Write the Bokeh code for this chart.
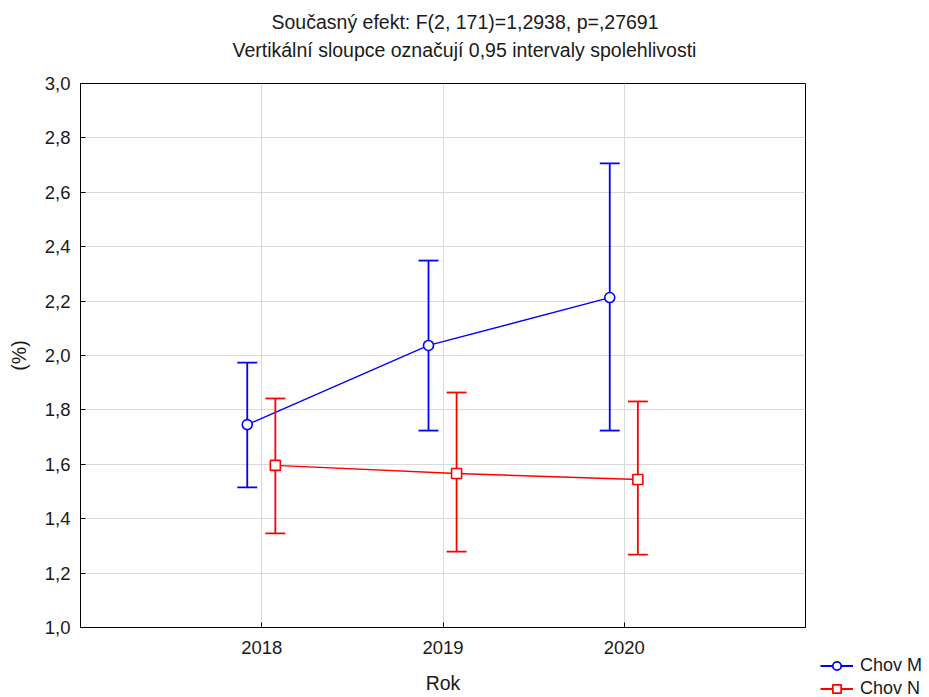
from bokeh.plotting import figure
from bokeh.layouts import row, column
from bokeh.models import (Range1d, FixedTicker, Legend, LegendItem, ColumnDataSource, Title, Spacer)
from bokeh.embed import file_html
from bokeh.resources import INLINE

years = [2018, 2019, 2020]
m_mean = [1.746, 2.037, 2.213]
m_upper = [1.974, 2.349, 2.706]
m_lower = [1.515, 1.724, 1.724]
n_mean = [1.596, 1.566, 1.544]
n_upper = [1.842, 1.864, 1.831]
n_lower = [1.346, 1.279, 1.268]
y_ticks = [1.0, 1.2, 1.4, 1.6, 1.8, 2.0, 2.2, 2.4, 2.6, 2.8, 3.0]
y_tick_labels = ["1,0", "1,2", "1,4", "1,6", "1,8", "2,0", "2,2", "2,4", "2,6", "2,8", "3,0"]
x_tick_labels = ["2018", "2019", "2020"]
title1 = "Současný efekt: F(2, 171)=1,2938, p=,27691"
title2 = "Vertikální sloupce označují 0,95 intervaly spolehlivosti"
series_names = ["Chov M", "Chov N"]

FONT = "Liberation Sans"
TXT = "#1a1a1a"
BLUE = "#0000FF"
RED = "#FF0000"

p = figure(width=818, height=697, output_backend="svg", toolbar_location=None,
           x_range=Range1d(2017, 2021), y_range=Range1d(1.0, 3.0),
           min_border_left=80, min_border_right=13, min_border_top=83, min_border_bottom=70)

p.outline_line_color = "black"
p.outline_line_width = 1
p.background_fill_color = "white"
p.border_fill_color = "white"

for ax in (p.xaxis[0], p.yaxis[0]):
    ax.major_tick_in = 5
    ax.major_tick_out = 0
    ax.minor_tick_line_color = None
    ax.axis_line_color = "black"
    ax.major_tick_line_color = "black"
    ax.major_label_text_font = FONT
    ax.major_label_text_font_size = "18.5px"
    ax.major_label_text_color = TXT
    ax.axis_label_text_font = FONT
    ax.axis_label_text_font_size = "19.5px"
    ax.axis_label_text_font_style = "normal"
    ax.axis_label_text_color = TXT

p.xaxis.ticker = FixedTicker(ticks=years)
p.xaxis.major_label_overrides = {y: l for y, l in zip(years, x_tick_labels)}
p.yaxis.ticker = FixedTicker(ticks=y_ticks)
p.yaxis.major_label_overrides = {t: l for t, l in zip(y_ticks, y_tick_labels)}
p.xaxis.axis_label = "Rok"
p.yaxis.axis_label = "(%)"
p.xaxis.major_label_standoff = 13
p.yaxis.major_label_standoff = 10
p.xaxis.axis_label_standoff = 15
p.yaxis.axis_label_standoff = 12

p.xgrid.grid_line_color = "#d9d9d9"
p.ygrid.grid_line_color = "#d9d9d9"

# legend figure (separate small figure placed below-right of the plot)
lg = figure(width=107, height=47, output_backend="svg", toolbar_location=None,
            x_axis_type=None, y_axis_type=None, x_range=Range1d(0, 1), y_range=Range1d(0, 1),
            min_border=0, min_border_left=0, min_border_right=0, min_border_top=0, min_border_bottom=0)
lg.outline_line_color = None
lg.xgrid.visible = False
lg.ygrid.visible = False
lg.background_fill_color = "white"
lg.border_fill_color = "white"

cap = 0.055
items = []
for name, mean, up, lo, color, off, marker in [
        (series_names[0], m_mean, m_upper, m_lower, BLUE, -0.08, "circle"),
        (series_names[1], n_mean, n_upper, n_lower, RED, 0.075, "square")]:
    xs = [y + off for y in years]
    src = ColumnDataSource(dict(x=xs, mean=mean, up=up, lo=lo,
                                x0=[x - cap for x in xs], x1=[x + cap for x in xs]))
    p.segment(x0="x", y0="lo", x1="x", y1="up", source=src, line_color=color, line_width=1.8)
    p.segment(x0="x0", y0="up", x1="x1", y1="up", source=src, line_color=color, line_width=1.8)
    p.segment(x0="x0", y0="lo", x1="x1", y1="lo", source=src, line_color=color, line_width=1.8)
    p.line("x", "mean", source=src, line_color=color, line_width=1.4)
    p.scatter("x", "mean", source=src, marker=marker, size=10, line_color=color,
              fill_color="white", line_width=1.6)
    # legend-only renderers (a single NaN point, nothing is drawn in the frame)
    proxy = ColumnDataSource(dict(x=[float("nan")], y=[float("nan")]))
    ln = lg.line("x", "y", source=proxy, line_color=color, line_width=1.8)
    mk = lg.scatter("x", "y", source=proxy, marker=marker, size=9, line_color=color,
                    fill_color="white", line_width=1.8)
    items.append(LegendItem(label=name, renderers=[ln, mk]))

legend = Legend(items=items, location=(2, -2), orientation="vertical",
                label_text_font=FONT, label_text_font_size="18px", label_text_color=TXT,
                glyph_width=33, glyph_height=21, label_height=21, label_standoff=7,
                spacing=2, padding=0, margin=0, border_line_color=None,
                background_fill_alpha=0)
lg.add_layout(legend, "center")

# titles: spacer nearest the frame, then subtitle, then main title line
p.add_layout(Title(text=" ", text_font_size="2px", standoff=17), "above")
p.add_layout(Title(text=title2, align="left", offset=152, text_font=FONT, text_font_size="19.5px",
                   text_font_style="normal", text_color=TXT, standoff=4), "above")
p.add_layout(Title(text=title1, align="left", offset=191, text_font=FONT, text_font_size="19.5px",
                   text_font_style="normal", text_color=TXT, standoff=3), "above")

layout = row(p, column(Spacer(width=107, height=650), lg))
open("out.html", "w").write(file_html(layout, INLINE))
